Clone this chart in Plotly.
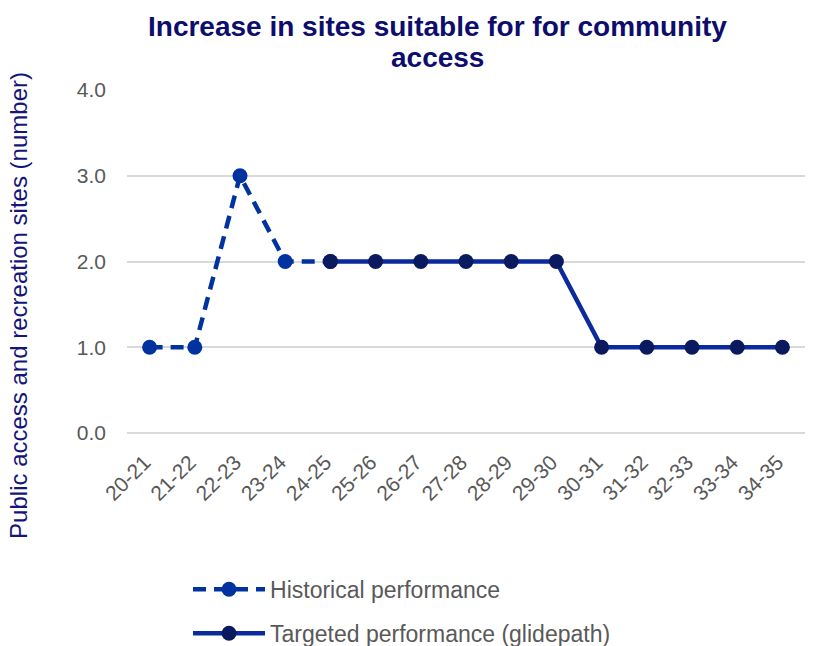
import plotly.graph_objects as go

categories = ["20-21", "21-22", "22-23", "23-24", "24-25", "25-26", "26-27", "27-28",
              "28-29", "29-30", "30-31", "31-32", "32-33", "33-34", "34-35"]
hist_cats = categories[:5]
hist_vals = [1, 1, 3, 2, 2]
target_cats = categories[4:]
target_vals = [2, 2, 2, 2, 2, 2, 1, 1, 1, 1, 1]
y_ticks = [0, 1, 2, 3, 4]

FONT = "Liberation Sans, Arial, sans-serif"

fig = go.Figure()
fig.add_trace(go.Scatter(
    x=hist_cats, y=hist_vals, name="Historical performance",
    mode="lines+markers", legendgroup="h",
    line=dict(color="#0033A0", width=4.5, dash="13px,8px"),
    marker=dict(color="#0033A0", size=15),
))
fig.add_trace(go.Scatter(
    x=target_cats, y=target_vals, name="Targeted performance (glidepath)",
    mode="lines+markers", legendgroup="t",
    line=dict(color="#0A2A9E", width=4.5),
    marker=dict(color="#0B1A5E", size=15),
))

fig.update_layout(
    width=814, height=646,
    margin=dict(l=127, r=9, t=90, b=213, autoexpand=False),
    paper_bgcolor="white", plot_bgcolor="white",
    font=dict(family=FONT, color="#595959"),
    xaxis=dict(type="category", categoryorder="array", categoryarray=categories,
               range=[-0.5, 14.5], tickangle=-45, showgrid=False, showline=False,
               ticks="", ticklabelstandoff=12, ticklabelshift=-5, automargin=False,
               tickfont=dict(size=21, color="#595959")),
    yaxis=dict(range=[0, 4], tickvals=y_ticks, tickformat=".1f",
               showgrid=True, gridcolor="#D9D9D9", gridwidth=1.5,
               zeroline=True, zerolinecolor="#D9D9D9", zerolinewidth=1.5,
               showline=False, ticks="", ticklen=0, ticklabelstandoff=20,
               automargin=False,
               tickfont=dict(size=21, color="#595959")),
    showlegend=True,
    legend=dict(orientation="v", x=0.09, xanchor="left",
                yref="container", y=0.121, yanchor="top",
                font=dict(size=23, color="#595959"), tracegroupgap=11,
                itemwidth=72, bgcolor="rgba(0,0,0,0)"),
)
fig.add_annotation(
    text="<b>Increase in sites suitable for for community</b>",
    xref="paper", yref="paper", x=0.458, y=1.1837, xanchor="center", yanchor="middle",
    showarrow=False, font=dict(size=28, color="#0D0D6E", family=FONT),
)
fig.add_annotation(
    text="<b>access</b>",
    xref="paper", yref="paper", x=0.458, y=1.0962, xanchor="center", yanchor="middle",
    showarrow=False, font=dict(size=28, color="#0D0D6E", family=FONT),
)
fig.add_annotation(
    text="Public access and recreation sites (number)",
    xref="paper", yref="paper", x=-0.161, y=0.373, textangle=-90,
    xanchor="center", yanchor="middle", showarrow=False,
    font=dict(size=24, color="#15157A", family=FONT),
)
fig.write_html("out.html")
